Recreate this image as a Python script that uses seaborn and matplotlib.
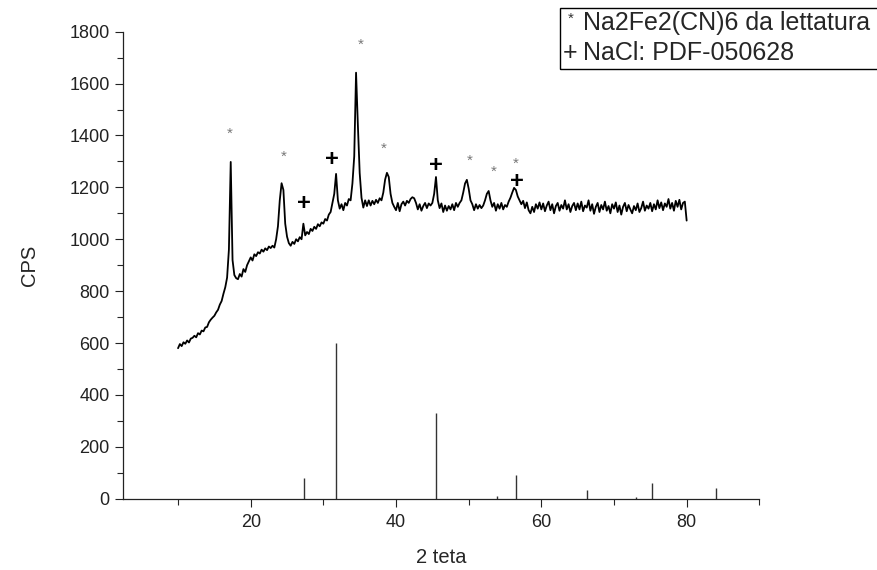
import numpy as np
import pandas as pd
import matplotlib.pyplot as plt
from matplotlib.ticker import MultipleLocator
from matplotlib.patches import Rectangle
import seaborn as sns

sns.set_style("ticks")
plt.rcParams['font.family'] = ['Liberation Sans', 'DejaVu Sans']

# measured pattern, 2theta from 10 to 80 in 0.25 steps
two_theta = np.arange(10, 80.001, 0.25)
cps = [
    580, 596, 588, 603, 597, 610, 602, 617, 620, 628, 622, 638, 633, 648, 645, 660, 662, 680, 690, 698,
    705, 718, 728, 748, 762, 790, 815, 852, 960, 1298, 920, 862, 850, 846, 866, 856, 885, 874, 900, 915,
    930, 918, 942, 935, 950, 945, 960, 952, 965, 958, 972, 966, 975, 968, 1000, 1050, 1150, 1216, 1190, 1060,
    1010, 985, 975, 990, 982, 1000, 992, 1008, 1000, 1060, 1015, 1028, 1020, 1040, 1032, 1048, 1040, 1058, 1050, 1065,
    1060, 1078, 1072, 1095, 1105, 1140, 1175, 1252, 1150, 1118, 1135, 1112, 1140, 1130, 1155, 1150, 1215, 1320, 1642, 1440,
    1255, 1160, 1122, 1150, 1128, 1150, 1130, 1148, 1135, 1152, 1140, 1158, 1150, 1180, 1230, 1256, 1240, 1175, 1140, 1125,
    1112, 1140, 1108, 1135, 1145, 1130, 1148, 1140, 1155, 1162, 1158, 1140, 1115, 1135, 1110, 1128, 1140, 1120, 1138, 1130,
    1140, 1175, 1240, 1150, 1120, 1138, 1105, 1130, 1110, 1128, 1115, 1135, 1112, 1140, 1125, 1140, 1150, 1180, 1215, 1229,
    1195, 1150, 1135, 1112, 1135, 1118, 1132, 1120, 1130, 1150, 1175, 1186, 1150, 1125, 1140, 1110, 1135, 1118, 1140, 1115,
    1132, 1125, 1145, 1160, 1180, 1198, 1190, 1165, 1150, 1135, 1148, 1120, 1142, 1112, 1100, 1125, 1105, 1135, 1118, 1142,
    1115, 1138, 1108, 1130, 1145, 1112, 1135, 1100, 1128, 1140, 1110, 1132, 1118, 1150, 1115, 1135, 1105, 1128, 1140, 1112,
    1138, 1115, 1145, 1108, 1130, 1122, 1150, 1110, 1135, 1098, 1125, 1140, 1105, 1132, 1115, 1145, 1110, 1128, 1100, 1135,
    1118, 1142, 1105, 1130, 1095, 1125, 1140, 1108, 1132, 1115, 1100, 1128, 1112, 1138, 1105, 1120, 1145, 1110, 1130, 1118,
    1140, 1108, 1135, 1115, 1150, 1120, 1142, 1112, 1138, 1125, 1155, 1118, 1140, 1110, 1148, 1125, 1152, 1115, 1140, 1145,
    1072,
]

# NaCl reference lines (PDF-050628)
nacl_pos = [27.37, 31.70, 45.45, 53.87, 56.48, 66.24, 73.08, 75.30, 83.99]
nacl_int = [78, 600, 330, 10, 92, 35, 5, 62, 43]

# peak markers
star_x = [17.16, 24.59, 35.19, 38.35, 50.19, 53.49, 56.52]
star_y = [1406, 1317, 1749, 1348, 1301, 1259, 1290]
plus_x = [27.34, 31.19, 45.51, 56.66]
plus_y = [1139, 1309, 1286, 1224]

df = pd.DataFrame({'2theta': two_theta, 'CPS': cps})

fig = plt.figure(figsize=(8.77, 5.70), dpi=100)
ax = fig.add_axes([0.1403, 0.1251, 0.7255, 0.8193])

sns.lineplot(data=df, x='2theta', y='CPS', color='black', lw=1.3, ax=ax)
ax.vlines(nacl_pos, 0, nacl_int, color='#333333', lw=1.0)

for x, y in zip(star_x, star_y):
    ax.text(x, y, '*', color='#777777', fontsize=11, ha='center', va='center')
for x, y in zip(plus_x, plus_y):
    ax.text(x, y, '+', color='black', fontsize=17, fontweight='bold', ha='center', va='center')

ax.set_xlim(2.43, 90)
ax.set_ylim(0, 1800)
ax.xaxis.set_major_locator(MultipleLocator(20))
ax.xaxis.set_minor_locator(MultipleLocator(10))
ax.yaxis.set_major_locator(MultipleLocator(200))
ax.yaxis.set_minor_locator(MultipleLocator(100))
ax.tick_params(which='major', length=6, width=0.8, direction='out', labelsize=13, colors='#222222')
ax.tick_params(which='minor', length=4, width=0.8, direction='out')
ax.tick_params(axis='x', pad=5)
for s in ['left', 'bottom']:
    ax.spines[s].set_color('#222222')
    ax.spines[s].set_linewidth(0.9)
sns.despine(ax=ax)

ax.set_xlabel('2 teta', fontsize=14.5, labelpad=12)
ax.set_ylabel('CPS', fontsize=14.5, labelpad=22)

# legend box in the top right corner
fig.patches.append(Rectangle((560 / 877, 1 - 69 / 570), 0.5, 61 / 570, transform=fig.transFigure,
                             fill=False, edgecolor='black', lw=1.0))
fig.text(568 / 877, 1 - 19 / 570, '*', fontsize=11, color='#333333', ha='left', va='center')
fig.text(583 / 877, 1 - 23 / 570, 'Na2Fe2(CN)6 da lettatura', fontsize=18, ha='left', va='center')
fig.text(563 / 877, 1 - 53 / 570, '+', fontsize=18, ha='left', va='center')
fig.text(583 / 877, 1 - 53 / 570, 'NaCl: PDF-050628', fontsize=18, ha='left', va='center')

fig.savefig('out.png', dpi=100)
